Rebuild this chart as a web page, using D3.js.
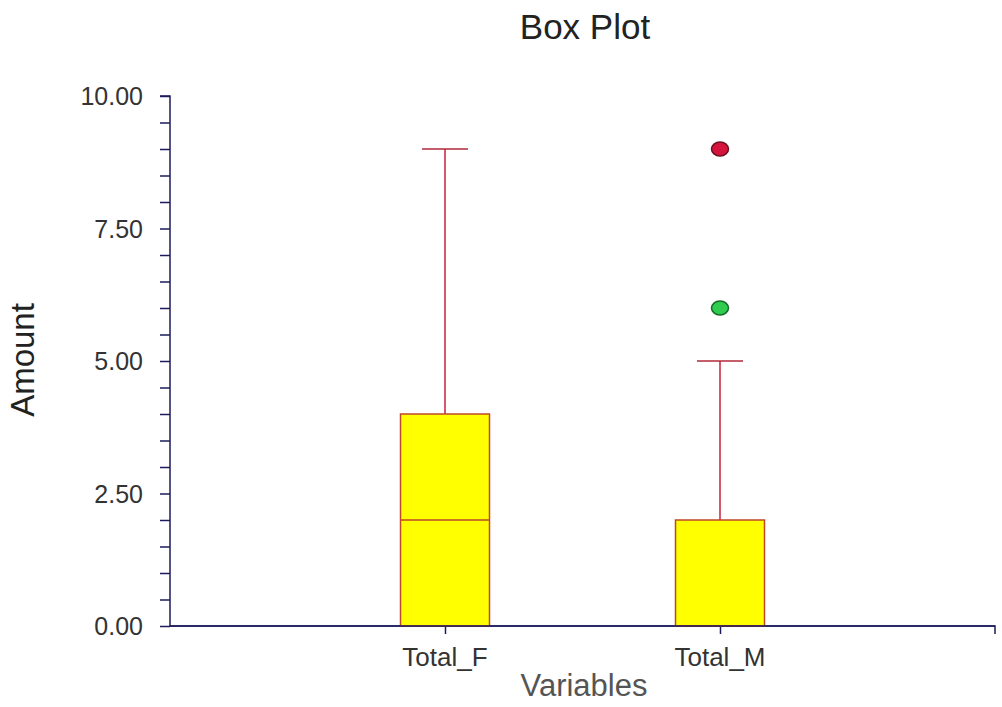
<!DOCTYPE html>
<html>
<head>
<meta charset="utf-8">
<script src="https://cdn.jsdelivr.net/npm/d3@7"></script>
<style>
  body { margin: 0; background: #fff; }
  text { font-family: "Liberation Sans", Arial, sans-serif; }
</style>
</head>
<body>
<svg width="1002" height="707"></svg>
<script>
  // data
  var variables = ["Total_F", "Total_M"];
  var lowerWhisker = [0, 0];
  var q1 = [0, 0];
  var median = [2, 0];
  var q3 = [4, 2];
  var upperWhisker = [9, 5];
  var outliers = [
    { variable: "Total_M", value: 9, kind: "severe" },
    { variable: "Total_M", value: 6, kind: "mild" }
  ];
  var yTicks = [0, 2.5, 5, 7.5, 10];

  var svg = d3.select("svg");

  var x = d3.scalePoint()
      .domain(variables)
      .range([170, 995])
      .padding(1);

  var y = d3.scaleLinear()
      .domain([0, 10])
      .range([626, 96]);

  var axisColor = "#1c1c5c",
      boxW = 89,
      capW = 46;

  // y axis
  var gy = svg.append("g").attr("transform", "translate(170,0)");
  gy.call(d3.axisLeft(y).tickValues(d3.range(0, 10.01, 0.5)).tickSize(10).tickFormat(""))
    .call(function(g) { g.selectAll("line").attr("stroke", axisColor).attr("stroke-width", 1.5); })
    .call(function(g) { g.select(".domain").attr("stroke", axisColor).attr("stroke-width", 1.5).attr("d", "M0,626V96H-10"); });

  gy.selectAll(".lab")
    .data(yTicks)
    .enter().append("text")
      .attr("x", -27)
      .attr("y", function(d) { return y(d); })
      .attr("dy", "0.36em")
      .attr("text-anchor", "end")
      .attr("font-size", 25)
      .attr("fill", "#333")
      .text(function(d) { return d3.format(".2f")(d); });

  // x axis
  var gx = svg.append("g").attr("transform", "translate(0,626)");
  gx.call(d3.axisBottom(x).tickSize(8).tickSizeOuter(0).tickFormat(""))
    .call(function(g) { g.selectAll("line").attr("stroke", axisColor).attr("stroke-width", 1.5); })
    .call(function(g) { g.select(".domain").attr("stroke", axisColor).attr("stroke-width", 1.5).attr("d", "M170,0H995V8"); });

  gx.selectAll(".lab")
    .data(variables)
    .enter().append("text")
      .attr("x", function(d) { return x(d); })
      .attr("y", 40)
      .attr("text-anchor", "middle")
      .attr("font-size", 26)
      .attr("fill", "#333")
      .text(function(d) { return d; });

  // boxes
  var boxes = svg.append("g").selectAll("g")
    .data(variables)
    .enter().append("g");

  boxes.append("line")
      .attr("x1", function(d) { return x(d); })
      .attr("x2", function(d) { return x(d); })
      .attr("y1", function(d, i) { return y(q3[i]); })
      .attr("y2", function(d, i) { return y(upperWhisker[i]); })
      .attr("stroke", "#c8203c")
      .attr("stroke-width", 1.5);

  boxes.append("line")
      .attr("x1", function(d) { return x(d) - capW / 2; })
      .attr("x2", function(d) { return x(d) + capW / 2; })
      .attr("y1", function(d, i) { return y(upperWhisker[i]); })
      .attr("y2", function(d, i) { return y(upperWhisker[i]); })
      .attr("stroke", "#b02838")
      .attr("stroke-width", 1.5);

  boxes.append("line")
      .attr("x1", function(d) { return x(d); })
      .attr("x2", function(d) { return x(d); })
      .attr("y1", function(d, i) { return y(q1[i]); })
      .attr("y2", function(d, i) { return y(lowerWhisker[i]); })
      .attr("stroke", "#c8203c")
      .attr("stroke-width", 1.5);

  boxes.append("rect")
      .attr("x", function(d) { return x(d) - boxW / 2; })
      .attr("width", boxW)
      .attr("y", function(d, i) { return y(q3[i]); })
      .attr("height", function(d, i) { return y(q1[i]) - y(q3[i]); })
      .attr("fill", "#ffff00")
      .attr("stroke", "#c0482a")
      .attr("stroke-width", 1.5);

  boxes.append("line")
      .attr("x1", function(d) { return x(d) - boxW / 2; })
      .attr("x2", function(d) { return x(d) + boxW / 2; })
      .attr("y1", function(d, i) { return y(median[i]); })
      .attr("y2", function(d, i) { return y(median[i]); })
      .attr("stroke", "#b8482a")
      .attr("stroke-width", 1.5);

  // redraw base line over box bottoms
  svg.append("line")
      .attr("x1", 170).attr("x2", 995)
      .attr("y1", y(0)).attr("y2", y(0))
      .attr("stroke", axisColor).attr("stroke-width", 1.5);

  // outliers
  svg.append("g").selectAll("ellipse")
    .data(outliers)
    .enter().append("ellipse")
      .attr("cx", function(d) { return x(d.variable); })
      .attr("cy", function(d) { return y(d.value); })
      .attr("rx", 8.5)
      .attr("ry", 7)
      .attr("fill", function(d) { return d.kind === "severe" ? "#d4143c" : "#30cc50"; })
      .attr("stroke", function(d) { return d.kind === "severe" ? "#6a1020" : "#146a28"; })
      .attr("stroke-width", 1.5);

  // titles
  svg.append("text")
      .attr("x", 585)
      .attr("y", 39)
      .attr("text-anchor", "middle")
      .attr("font-size", 35)
      .attr("fill", "#222")
      .text("Box Plot");

  svg.append("text")
      .attr("transform", "translate(34,360) rotate(-90)")
      .attr("text-anchor", "middle")
      .attr("font-size", 33)
      .attr("fill", "#222")
      .text("Amount");

  svg.append("text")
      .attr("x", 584)
      .attr("y", 696)
      .attr("text-anchor", "middle")
      .attr("font-size", 31)
      .attr("fill", "#555")
      .text("Variables");
</script>
</body>
</html>
